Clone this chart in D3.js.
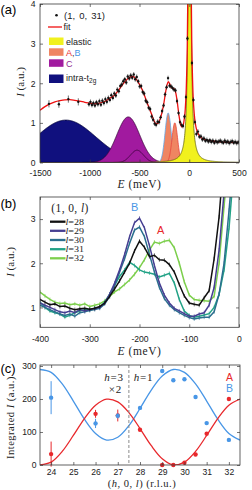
<!DOCTYPE html>
<html>
<head>
<meta charset="utf-8">
<script src="https://cdn.jsdelivr.net/npm/d3@7"></script>
<style>
  body { margin: 0; background: #fff; }
  svg text { font-family: "Liberation Sans", Arial, sans-serif; }
  .serif { font-family: "Liberation Serif", "Times New Roman", serif !important; }
</style>
</head>
<body>
<svg id="fig" width="252" height="490"></svg>
<script>
// ---------- panel (a): RIXS spectrum at (1, 0, 31) ----------
const sparseE = [-1410, -1310, -1215, -1115];
const sparseI = [1.48, 1.47, 1.60, 1.53];
// dense scan, energy grid starts at denseE0 with denseStep spacing
const denseE0 = -1008, denseStep = 15;
const denseI = [
  1.47, 1.53, 1.45, 1.50, 1.44, 1.52, 1.47, 1.55, 1.46, 1.56,
  1.50, 1.60, 1.53, 1.63, 1.58, 1.70, 1.63, 1.74, 1.69, 1.84,
  1.80, 1.93, 1.97, 2.05, 2.10, 2.02, 2.17, 2.12, 2.20, 2.14,
  2.22, 2.10, 2.16, 2.05, 1.92, 1.93, 1.78, 1.74, 1.56, 1.52,
  1.38, 1.35, 1.16, 1.08, 0.98, 0.95, 1.03, 1.02, 1.14, 1.30,
  1.44, 1.72, 1.90, 2.13, 1.94, 1.92, 1.88, 1.84, 1.82, 1.55,
  1.25, 1.02, 0.95, 0.92, 1.16, 1.65, 3.13, 7.6, 6.2, 2.51,
  1.58, 1.02, 0.72, 0.78, 0.65, 0.66, 0.58, 0.61, 0.55, 0.57,
  0.53, 0.56, 0.52, 0.55, 0.50, 0.54, 0.51, 0.53, 0.55, 0.52,
  0.50, 0.55, 0.51, 0.53, 0.49, 0.52, 0.54, 0.50, 0.52, 0.49,
  0.51
];
const fitE = [-1500, -1450, -1400, -1350, -1300, -1250, -1200, -1150, -1100, -1050,
  -1000, -950, -900, -850, -800, -750, -700, -650, -600, -565,
  -530, -500, -470, -440, -410, -380, -355, -335, -315, -295,
  -275, -255, -238, -222, -210, -198, -185, -165, -148, -135,
  -120, -105, -90, -75, -62, -50, -40, -30, -20, -10,
  3, 15, 25, 35, 50, 70, 100, 150, 200, 300, 400, 500];
const fitI = [1.32, 1.41, 1.48, 1.53, 1.56, 1.58, 1.585, 1.57, 1.55, 1.52,
  1.50, 1.48, 1.50, 1.54, 1.62, 1.70, 1.86, 2.03, 2.15, 2.17,
  2.09, 1.97, 1.82, 1.62, 1.42, 1.23, 1.06, 0.98, 0.99, 1.08,
  1.25, 1.50, 1.77, 1.97, 2.04, 1.99, 1.91, 1.87, 1.85, 1.75,
  1.52, 1.22, 0.99, 0.90, 0.93, 1.10, 1.35, 1.87, 2.93, 5.3,
  9.5, 5.7, 3.1, 1.95, 1.23, 0.87, 0.68, 0.58, 0.55, 0.52, 0.51, 0.505];
// fitted components: centre (meV), height, width
const compNames = ["intra", "C", "C2", "B", "A", "elastic"];
const compCenter = [-1240, -613, -525, -212, -145, 3];
const compHeight = [1.07, 1.15, 0.31, 1.25, 1.0, 9];
const compWidth = [300, 115, 65, 31, 28, 14];
const compShape = ["g", "g", "g", "g", "g", "l"];

// ---------- panel (b): spectra along (1, 0, l) ----------
const bE0 = -400, bStep = 10;
const lNames = ["28", "29", "30", "31", "32"];
const l28 = [1.18,1.12,1.06,1.08,1.02,1.03,0.98,0.95,0.97,0.98, 0.96,0.98,1.02,1.10,1.25,1.42,1.60,1.80,2.00,2.28,
  2.50,2.36,2.15,2.18,2.08,2.07,1.97,1.80,1.52,1.26, 1.10,1.07,1.05,1.22,1.38,2.10,3.05,4.5,5.5,6,6];
const l29 = [1.10,1.05,1.00,0.95,0.90,0.88,0.92,0.88,0.95,0.92, 0.95,0.97,1.00,1.10,1.30,1.55,1.85,2.20,2.60,2.92,
  3.02,2.80,2.40,1.95,1.55,1.28,1.10,0.98,0.92,0.86, 0.80,0.80,0.85,0.88,1.05,1.45,2.30,3.6,5,6,6];
const l30 = [1.05,1.00,0.95,0.90,0.85,0.82,0.85,0.80,0.88,0.90, 0.93,0.95,0.98,1.08,1.25,1.50,1.80,2.10,2.45,2.75,
  2.82,2.60,2.20,1.80,1.45,1.20,1.05,0.95,0.88,0.82, 0.77,0.74,0.76,0.78,0.78,0.90,1.30,2.00,3.2,4.5,6];
const l31 = [1.12,1.00,0.92,0.88,0.85,0.78,0.82,0.88,0.92,0.95, 0.95,0.98,1.00,1.12,1.30,1.50,1.70,1.85,2.02,1.95,
  1.85,1.80,1.78,1.75,1.69,1.73,1.77,1.55,1.18,0.92, 0.82,0.78,0.80,0.83,0.86,1.00,1.30,1.85,2.8,4.2,6];
const l32 = [1.35,1.26,1.18,1.12,1.09,1.10,1.06,1.08,1.05,1.08, 1.02,1.05,1.08,1.15,1.25,1.35,1.42,1.52,1.62,1.75,
  1.90,2.08,2.30,2.48,2.45,2.50,2.52,2.35,2.00,1.58, 1.28,1.18,1.16,1.15,1.14,1.25,2.00,3.3,4.5,5.5,6];

// ---------- panel (c): integrated intensity of A and B ----------
const cL = [24, 26, 27, 28, 29, 29.5, 30, 30.5, 31, 32];
const cA = [33, 155, 150, 107, 0, 0, 7, 32, 95, 200];
const cAerr = [38, 12, 18, 3, 0, 0, 0, 0, 3, 3];
const cB = [204, 126, 149, 173, 285, 257, 260, 206, 127, 76];
const cBerr = [50, 14, 8, 3, 0, 3, 0, 0, 3, 0];
const fitL = [23.5, 24, 24.5, 25, 25.5, 26, 26.5, 27, 27.5, 28, 28.5, 29, 29.5, 30, 30.5, 31, 31.5, 32, 32.5];
const fitA = [0.5, 8.6, 41.2, 89.5, 140.7, 180.9, 199.5, 191.4, 158.8, 110.5, 59.3, 19.1, 0.5, 8.6, 41.2, 89.5, 140.7, 180.9, 199.5];
const fitB = [289.4, 280.8, 245.7, 193.8, 138.7, 95.5, 75.5, 84.2, 119.3, 171.2, 226.3, 269.5, 289.4, 280.8, 245.7, 193.8, 138.7, 95.5, 75.5];

// ---------- drawing ----------
const svg = d3.select("#fig");
const SANS = "Liberation Sans, Arial, sans-serif";
const redC = "#e8282c", blueC = "#4896e6";

function frame(g, x, y, xt, yt, xpad, ypad) {
  const [yb, yt0] = y.range();
  const [xl, xr] = x.range();
  const add = (gen, tr, vals, lab, pad) => g.append("g").attr("transform", tr)
    .call(gen.tickValues(vals).tickSize(-3).tickPadding(pad).tickFormat(lab ? (d => String(d)) : ""))
    .call(s => s.select(".domain").remove())
    .call(s => s.selectAll("line").attr("stroke", "#3a3a3a").attr("stroke-width", 0.7))
    .call(s => s.selectAll("text").attr("font-family", SANS).attr("font-size", 8.6).attr("fill", "#1a1a1a"));
  add(d3.axisBottom(x), `translate(0,${yb})`, xt, true, xpad);
  add(d3.axisTop(x), `translate(0,${yt0})`, xt, false, 0);
  add(d3.axisLeft(y), `translate(${xl},0)`, yt, true, ypad);
  add(d3.axisRight(y), `translate(${xr},0)`, yt, false, 0);
  g.append("rect").attr("x", xl).attr("y", yt0).attr("width", xr - xl).attr("height", yb - yt0)
    .attr("fill", "none").attr("stroke", "#3a3a3a").attr("stroke-width", 0.8);
}

function clip(id, x, y) {
  svg.append("clipPath").attr("id", id).append("rect")
    .attr("x", x.range()[0]).attr("y", y.range()[1])
    .attr("width", x.range()[1] - x.range()[0]).attr("height", y.range()[0] - y.range()[1]);
}

function mathLabel(g, x, y, parts, size, rotate, spacing) {
  const t = g.append("text").attr("class", "serif").attr("font-size", size).attr("fill", "#222")
    .attr("text-anchor", "middle").attr("letter-spacing", spacing || 0);
  if (rotate) t.attr("transform", `translate(${x},${y}) rotate(-90)`);
  else t.attr("x", x).attr("y", y);
  parts.forEach(p => t.append("tspan").attr("font-style", p[1] ? "italic" : "normal").text(p[0]));
  return t;
}

// ---- (a)
const xa = d3.scaleLinear().domain([-1500, 500]).range([40, 239]);
const ya = d3.scaleLinear().domain([0, 4]).range([162.5, 4]);
clip("clipA", xa, ya);
const ga = svg.append("g");
const pa = ga.append("g").attr("clip-path", "url(#clipA)");

const shape = (k, e) => compShape[k] === "l"
  ? compHeight[k] / (1 + ((e - compCenter[k]) / compWidth[k]) ** 2)
  : compHeight[k] * Math.exp(-((e - compCenter[k]) ** 2) / (2 * compWidth[k] ** 2));
const eGrid = d3.range(-1500, 500.01, 2);
const compFill = { intra: "#10107e", C: "#a11a9f", C2: "#a11a9f", B: "#ef8562", A: "#ef8562", elastic: "#f1f11e" };
const compStroke = { intra: "#06063a", C: "#3c0c3c", C2: "#3c0c3c", B: "#5aa8ee", A: "#e8463c", elastic: "#6a6a14" };
compNames.forEach((n, k) => {
  const area = d3.area().x(e => xa(e)).y0(ya(0)).y1(e => ya(shape(k, e)));
  const line = d3.line().x(e => xa(e)).y(e => ya(shape(k, e)));
  pa.append("path").attr("d", area(eGrid)).attr("fill", compFill[n]);
  pa.append("path").attr("d", line(eGrid)).attr("fill", "none").attr("stroke", compStroke[n]).attr("stroke-width", 0.8);
});

const fitLine = d3.line().curve(d3.curveMonotoneX).x((d, i) => xa(fitE[i])).y(d => ya(d));
pa.append("path").attr("d", fitLine(fitI)).attr("fill", "none").attr("stroke", "#f01010").attr("stroke-width", 1.3);

const pts = sparseE.map((e, i) => ({ e, v: sparseI[i], err: 0.09 }))
  .concat(denseI.map((v, i) => ({ e: denseE0 + i * denseStep, v, err: 0.06 })));
pa.selectAll("line.eb").data(pts).join("line")
  .attr("x1", d => xa(d.e)).attr("x2", d => xa(d.e))
  .attr("y1", d => ya(d.v - d.err)).attr("y2", d => ya(d.v + d.err))
  .attr("stroke", "#111").attr("stroke-width", 0.6);
pa.selectAll("circle").data(pts).join("circle")
  .attr("cx", d => xa(d.e)).attr("cy", d => ya(d.v)).attr("r", 1.2).attr("fill", "#111");

frame(ga, xa, ya, [-1500, -1000, -500, 0, 500], [0, 1, 2, 3, 4], 7.5, 4.5);
mathLabel(ga, 139.5, 188, [["E", true], [" (meV)", false]], 11.5, false, 0.6);
mathLabel(ga, 24, 82, [["I", true], [" (a.u.)", false]], 11, true);
ga.append("text").attr("x", 0.5).attr("y", 13.5).attr("font-size", 13).text("(a)");

// legend (a)
const lg = ga.append("g").attr("font-size", 9).attr("fill", "#222");
lg.append("circle").attr("cx", 56.5).attr("cy", 15.3).attr("r", 1.3).attr("fill", "#111");
lg.append("text").attr("x", 64).attr("y", 18.6).attr("font-size", 9.5).attr("word-spacing", 1.5).text("(1, 0, 31)");
lg.append("line").attr("x1", 48).attr("x2", 62).attr("y1", 27).attr("y2", 27).attr("stroke", "#f01010").attr("stroke-width", 1.3);
lg.append("text").attr("x", 63.5).attr("y", 30.3).text("fit");
const legRows = [["elastic", 37.5], ["A", 48.3], ["C", 59.3], ["intra", 74.5]];
legRows.forEach(([n, ry]) => {
  lg.append("rect").attr("x", 49).attr("y", ry).attr("width", 14.5).attr("height", n === "intra" ? 8.5 : 7.5).attr("fill", compFill[n]);
});
lg.append("text").attr("x", 66).attr("y", 44.7).text("elastic");
const tAB = lg.append("text").attr("x", 66).attr("y", 55.7);
tAB.append("tspan").attr("fill", redC).text("A");
tAB.append("tspan").attr("fill", "#333").text(",");
tAB.append("tspan").attr("fill", blueC).text("B");
lg.append("text").attr("x", 66).attr("y", 66.5).attr("fill", "#8f2a8f").text("C");
const tIn = lg.append("text").attr("x", 66).attr("y", 80.7).text("intra-t");
tIn.append("tspan").attr("font-size", 6.5).attr("dy", 2.5).text("2g");

// ---- (b)
const xb = d3.scaleLinear().domain([-400, 0]).range([40, 239]);
const yb = d3.scaleLinear().domain([0.55, 3.5]).range([327.3, 197]);
clip("clipB", xb, yb);
const gb = svg.append("g");
const pb = gb.append("g").attr("clip-path", "url(#clipB)");
const lSeries = [l28, l29, l30, l31, l32];
const lColor = ["#111111", "#463f92", "#2b6f8e", "#22a286", "#7ccf4c"];
const bLine = d3.line().x((d, i) => xb(bE0 + i * bStep)).y(d => yb(d));
[4, 3, 2, 1, 0].forEach(k => {
  const s = lSeries[k];
  pb.append("path").attr("d", bLine(s)).attr("fill", "none").attr("stroke", lColor[k]).attr("stroke-width", 1.5);
  pb.append("g").selectAll("line").data(s).join("line")
    .attr("x1", (d, i) => xb(bE0 + i * bStep)).attr("x2", (d, i) => xb(bE0 + i * bStep))
    .attr("y1", d => yb(d) - 2).attr("y2", d => yb(d) + 2)
    .attr("stroke", lColor[k]).attr("stroke-width", 0.6);
});
frame(gb, xb, yb, [-400, -300, -200, -100, 0], [1, 2, 3], 8.5, 4.5);
mathLabel(gb, 139.5, 355, [["E", true], [" (meV)", false]], 11.5, false, 0.6);
mathLabel(gb, 14, 262, [["I", true], [" (a.u.)", false]], 11, true);
gb.append("text").attr("x", 0.5).attr("y", 208).attr("font-size", 13).text("(b)");
gb.append("text").attr("x", 134.7).attr("y", 210.5).attr("text-anchor", "middle").attr("font-size", 11).attr("fill", blueC).text("B");
gb.append("text").attr("x", 160.7).attr("y", 234).attr("text-anchor", "middle").attr("font-size", 11).attr("fill", redC).text("A");
mathLabel(gb, 70, 211.8, [["(1, 0, ", false], ["l", true], [")", false]], 11.5, false, 0.4);
const legY = [221.7, 230.8, 240, 249.2, 258.3];
lNames.forEach((n, k) => {
  gb.append("line").attr("x1", 50).attr("x2", 65.5).attr("y1", legY[k]).attr("y2", legY[k])
    .attr("stroke", lColor[k]).attr("stroke-width", 2.3);
  gb.append("text").attr("class", "serif").attr("x", 65.5).attr("y", legY[k] + 2.9)
    .attr("font-size", 8.2).attr("fill", "#222")
    .attr("textLength", 18.5).attr("lengthAdjust", "spacingAndGlyphs")
    .call(t => { t.append("tspan").attr("font-style", "italic").text("l"); t.append("tspan").text("=" + n); });
});

// ---- (c)
const xc = d3.scaleLinear().domain([23.5, 32.5]).range([40, 240]);
const yc = d3.scaleLinear().domain([0, 303]).range([465, 365]);
clip("clipC", xc, yc);
const gc = svg.append("g");
const pc = gc.append("g").attr("clip-path", "url(#clipC)");
const cLine = d3.line().curve(d3.curveCatmullRom).x((d, i) => xc(fitL[i])).y(d => yc(d));
pc.append("path").attr("d", cLine(fitB)).attr("fill", "none").attr("stroke", blueC).attr("stroke-width", 1.3);
pc.append("path").attr("d", cLine(fitA)).attr("fill", "none").attr("stroke", redC).attr("stroke-width", 1.3);
gc.append("line").attr("x1", xc(27.5)).attr("x2", xc(27.5)).attr("y1", 365).attr("y2", 465)
  .attr("stroke", "#8a8a8a").attr("stroke-width", 1).attr("stroke-dasharray", "3,2");
[[cA, cAerr, redC], [cB, cBerr, blueC]].forEach(([v, err, col]) => {
  gc.append("g").selectAll("line").data(v).join("line")
    .attr("x1", (d, i) => xc(cL[i])).attr("x2", (d, i) => xc(cL[i]))
    .attr("y1", (d, i) => yc(d - err[i])).attr("y2", (d, i) => yc(d + err[i]))
    .attr("stroke", col).attr("stroke-width", 1);
  gc.append("g").selectAll("circle").data(v).join("circle")
    .attr("cx", (d, i) => xc(cL[i])).attr("cy", d => yc(d)).attr("r", 2.2).attr("fill", col);
});
frame(gc, xc, yc, [24, 25, 26, 27, 28, 29, 30, 31, 32], [0, 100, 200, 300], 3.5, 3.5);
mathLabel(gc, 142, 486.5, [["(", false], ["h", true], [", 0, ", false], ["l", true], [") (r.l.u.)", false]], 10.5, false, 0.5);
mathLabel(gc, 13.5, 417.5, [["Integrated ", false], ["I", true], [" (a.u.)", false]], 10.5, true, 0.5);
gc.append("text").attr("x", 0.5).attr("y", 372.5).attr("font-size", 13).text("(c)");
mathLabel(gc, 114, 380.7, [["h", true], ["=3", false]], 11, false, 0.8);
mathLabel(gc, 115.5, 393, [["×2", false]], 11, false, 0.8);
mathLabel(gc, 143.5, 380.7, [["h", true], ["=1", false]], 11, false, 0.8);
gc.append("text").attr("x", 229.5).attr("y", 380.5).attr("text-anchor", "middle").attr("font-size", 10.5).attr("fill", redC).text("A");
gc.append("text").attr("x", 229.5).attr("y", 392).attr("text-anchor", "middle").attr("font-size", 10.5).attr("fill", blueC).text("B");
</script>
</body>
</html>
